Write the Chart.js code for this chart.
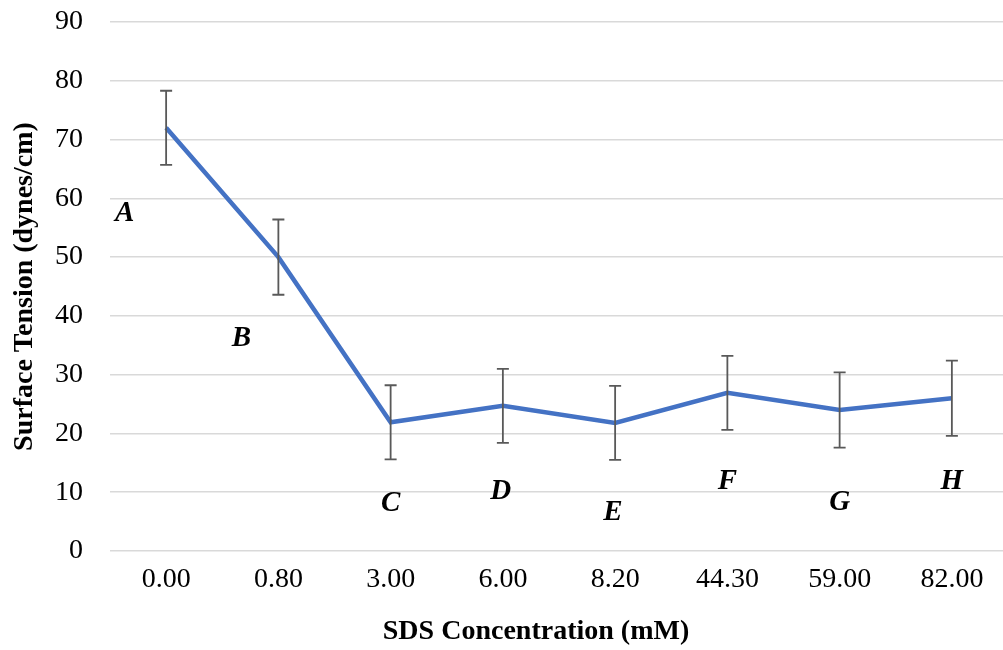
<!DOCTYPE html>
<html lang="en">
<head>
    <meta charset="UTF-8">
    <title>Surface Tension vs SDS Concentration</title>
    <script src="https://cdn.jsdelivr.net/npm/chart.js"></script>
    <style>
        html, body {
            margin: 0;
            padding: 0;
            background: #ffffff;
            overflow: hidden;
        }

        #wrap {
            width: 1008px;
            height: 650px;
        }
    </style>
</head>
<body>
    <div id="wrap">
        <canvas id="chart" width="1008" height="650"></canvas>
    </div>

    <script>
        // data
        const concentrations = ['0.00', '0.80', '3.00', '6.00', '8.20', '44.30', '59.00', '82.00'];
        const tension = [72.0, 50.0, 21.9, 24.7, 21.8, 26.9, 24.0, 26.0];
        const errors = [6.3, 6.4, 6.3, 6.3, 6.3, 6.3, 6.4, 6.4];
        const pointNames = ['A', 'B', 'C', 'D', 'E', 'F', 'G', 'H'];
        const nameY = [57.5, 36.1, 8.0, 10.2, 6.6, 11.9, 8.3, 11.9];
        const nameShift = [-0.37, -0.33, 0, -0.02, -0.02, 0, 0, 0];
        const yTicks = [0, 10, 20, 30, 40, 50, 60, 70, 80, 90];
        const xTitle = 'SDS Concentration (mM)';

        const serif = '"Liberation Serif", "Times New Roman", serif';

        const errorBars = {
            id: 'errorBars',
            afterDatasetsDraw(chart) {
                const ctx = chart.ctx;
                const x = chart.scales.x;
                const y = chart.scales.y;
                ctx.save();
                ctx.strokeStyle = '#595959';
                ctx.lineWidth = 1.8;
                tension.forEach((v, i) => {
                    const px = x.getPixelForValue(i);
                    const top = y.getPixelForValue(v + errors[i]);
                    const bot = y.getPixelForValue(v - errors[i]);
                    ctx.beginPath();
                    ctx.moveTo(px, top);
                    ctx.lineTo(px, bot);
                    ctx.moveTo(px - 6, top);
                    ctx.lineTo(px + 6, top);
                    ctx.moveTo(px - 6, bot);
                    ctx.lineTo(px + 6, bot);
                    ctx.stroke();
                });
                ctx.restore();
            }
        };

        const pointLabels = {
            id: 'pointLabels',
            afterDatasetsDraw(chart) {
                const ctx = chart.ctx;
                const x = chart.scales.x;
                const y = chart.scales.y;
                ctx.save();
                ctx.fillStyle = '#000000';
                ctx.font = 'italic bold 29px ' + serif;
                ctx.textAlign = 'center';
                ctx.textBaseline = 'middle';
                pointNames.forEach((n, i) => {
                    ctx.fillText(n, x.getPixelForValue(i + nameShift[i]), y.getPixelForValue(nameY[i]));
                });
                ctx.restore();
            }
        };

        // x title sits a little left of the plot centre in the original
        const bottomTitle = {
            id: 'bottomTitle',
            afterDraw(chart) {
                const ctx = chart.ctx;
                const area = chart.chartArea;
                ctx.save();
                ctx.fillStyle = '#000000';
                ctx.font = 'bold 28px ' + serif;
                ctx.textAlign = 'center';
                ctx.textBaseline = 'middle';
                ctx.fillText(xTitle, (area.left + area.right) / 2 - 23, 632);
                ctx.restore();
            }
        };

        new Chart(document.getElementById('chart').getContext('2d'), {
            type: 'line',
            data: {
                labels: concentrations,
                datasets: [{
                    data: tension,
                    borderColor: '#4472C4',
                    borderWidth: 4.5,
                    pointRadius: 0,
                    tension: 0,
                    fill: false
                }]
            },
            options: {
                responsive: false,
                animation: false,
                layout: { padding: { top: 22, right: 0, left: 0, bottom: 0 } },
                plugins: {
                    legend: { display: false },
                    tooltip: { enabled: false }
                },
                scales: {
                    x: {
                        offset: true,
                        afterFit(scale) {
                            scale.height = 99;
                            scale.paddingLeft = 0;
                            scale.paddingRight = 0;
                        },
                        grid: { display: false, drawTicks: false, offset: true },
                        border: { display: false },
                        ticks: {
                            color: '#000000',
                            padding: 12,
                            maxRotation: 0,
                            font: { family: serif, size: 28 }
                        },
                        title: { display: false }
                    },
                    y: {
                        min: 0,
                        max: 90,
                        afterFit(scale) {
                            scale.width = 110;
                            scale.paddingTop = 0;
                            scale.paddingBottom = 0;
                        },
                        afterBuildTicks(scale) { scale.ticks = yTicks.map(v => ({ value: v })); },
                        grid: { color: '#d9d9d9', lineWidth: 1.5, drawTicks: false },
                        border: { display: false },
                        ticks: {
                            color: '#000000',
                            padding: 27,
                            font: { family: serif, size: 28 }
                        },
                        title: {
                            display: true,
                            text: 'Surface Tension (dynes/cm)',
                            color: '#000000',
                            padding: { top: 8, bottom: 0 },
                            font: { family: serif, size: 28, weight: 'bold' }
                        }
                    }
                }
            },
            plugins: [errorBars, pointLabels, bottomTitle]
        });
    </script>
</body>
</html>
